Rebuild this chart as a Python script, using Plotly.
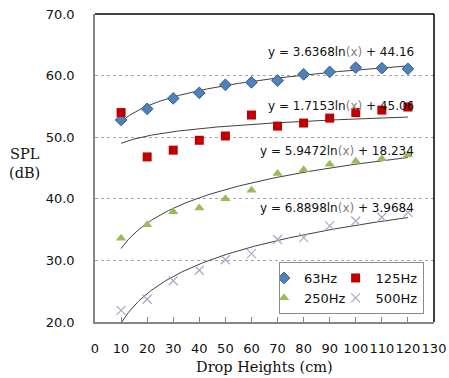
import numpy as np
import plotly.graph_objects as go

# Drop heights (cm)
heights = [10, 20, 30, 40, 50, 60, 70, 80, 90, 100, 110, 120]

# Sound pressure level (dB) per octave band
spl_63 = [52.8, 54.6, 56.3, 57.2, 58.5, 58.9, 59.2, 60.2, 60.6, 61.3, 61.2, 61.1]
spl_125 = [54.0, 46.8, 47.9, 49.5, 50.2, 53.6, 51.8, 52.3, 53.1, 54.0, 54.4, 54.9]
spl_250 = [33.6, 35.8, 37.9, 38.5, 40.0, 41.4, 44.1, 44.7, 45.6, 46.1, 46.5, 47.1]
spl_500 = [21.9, 23.7, 26.7, 28.4, 30.1, 31.1, 33.4, 33.7, 35.6, 36.4, 37.0, 37.8]

# Logarithmic trendline coefficients: y = a*ln(x) + b
fit_a = [3.6368, 1.7153, 5.9472, 6.8898]
fit_b = [44.16, 45.06, 18.234, 3.9684]
fit_label_y = [63.8, 55.1, 47.8, 38.5]

x_ticks = list(range(0, 140, 10))
y_ticks = [20, 30, 40, 50, 60, 70]

series = [
    ("63Hz", spl_63, dict(symbol="diamond", size=9, color="#4F81BD",
                          line=dict(color="#385D8A", width=1)), "a"),
    ("125Hz", spl_125, dict(symbol="square", size=9, color="#C00000",
                            line=dict(color="#C00000", width=0)), "b"),
    ("250Hz", spl_250, dict(symbol="triangle-up", size=9, color="#9BBB59",
                            line=dict(color="#9BBB59", width=0)), "a"),
    ("500Hz", spl_500, dict(symbol="x-thin-open", size=9, color="#B3A2C7",
                            line=dict(color="#B3A2C7", width=1.2)), "b"),
]

fig = go.Figure()

# Trendlines drawn first so points sit on top
xf = np.linspace(min(heights), max(heights), 200)
for a, b in zip(fit_a, fit_b):
    fig.add_trace(go.Scatter(x=xf, y=a * np.log(xf) + b, mode="lines",
                             line=dict(color="#404040", width=1),
                             showlegend=False, hoverinfo="skip"))

for name, vals, marker, grp in series:
    fig.add_trace(go.Scatter(x=heights, y=vals, mode="markers", name=name,
                             marker=marker, legendgroup=grp))

# Trendline equations
for a, b, ly in zip(fit_a, fit_b, fit_label_y):
    txt = f"y = {a:g}ln<span style='color:#7f7f7f'>(x)</span> + {b:g}"
    fig.add_annotation(x=123.0, y=ly, xref="x", yref="y", text=txt,
                       showarrow=False, xanchor="right", yanchor="middle",
                       font=dict(family="DejaVu Sans", size=12, color="#111"))

# Axis titles
plot_w, plot_h = 339, 308
fig.add_annotation(text="SPL<br>(dB)", xref="paper", yref="paper",
                   x=(24 - 95) / plot_w, y=(322 - 163) / plot_h,
                   showarrow=False, xanchor="center", yanchor="middle",
                   font=dict(family="DejaVu Serif", size=14.5, color="#111"))
fig.add_annotation(text="Drop Heights (cm)", xref="paper", yref="paper",
                   x=(264 - 95) / plot_w, y=-(367 - 322) / plot_h,
                   showarrow=False, xanchor="center", yanchor="middle",
                   font=dict(family="DejaVu Serif", size=14.5, color="#111"))

# Plot-area border: top and right edges
fig.add_shape(type="line", xref="paper", yref="paper", x0=0, x1=1, y0=1, y1=1,
              line=dict(color="#000", width=1.5))
fig.add_shape(type="line", xref="paper", yref="paper", x0=1, x1=1, y0=0, y1=1,
              line=dict(color="#000", width=1.5))

fig.update_layout(
    width=449, height=378,
    margin=dict(l=95, r=15, t=14, b=56, autoexpand=False),
    paper_bgcolor="white", plot_bgcolor="white",
    font=dict(family="DejaVu Sans", size=13, color="#111"),
    legend=dict(orientation="h", traceorder="grouped", tracegroupgap=0,
                indentation=-15,
                x=(279 - 95) / plot_w, y=(322 - 262) / plot_h,
                xanchor="left", yanchor="top",
                bgcolor="white", bordercolor="#8c8c8c", borderwidth=1,
                font=dict(family="DejaVu Sans", size=13, color="#111")),
    xaxis=dict(range=[0, 130], tickvals=x_ticks, tickangle=0,
               ticks="inside", ticklen=5, tickcolor="#868686",
               showline=True, linecolor="#868686", linewidth=1.5,
               showgrid=False, zeroline=False, ticklabelstandoff=14),
    yaxis=dict(range=[20, 70], tickvals=y_ticks, tickformat=".1f",
               ticks="", showline=True, linecolor="#868686", linewidth=1.5,
               showgrid=True, gridcolor="#a6a6a6", griddash="dot", gridwidth=1,
               zeroline=False, ticklabelstandoff=16),
)

fig.write_html("out.html")
